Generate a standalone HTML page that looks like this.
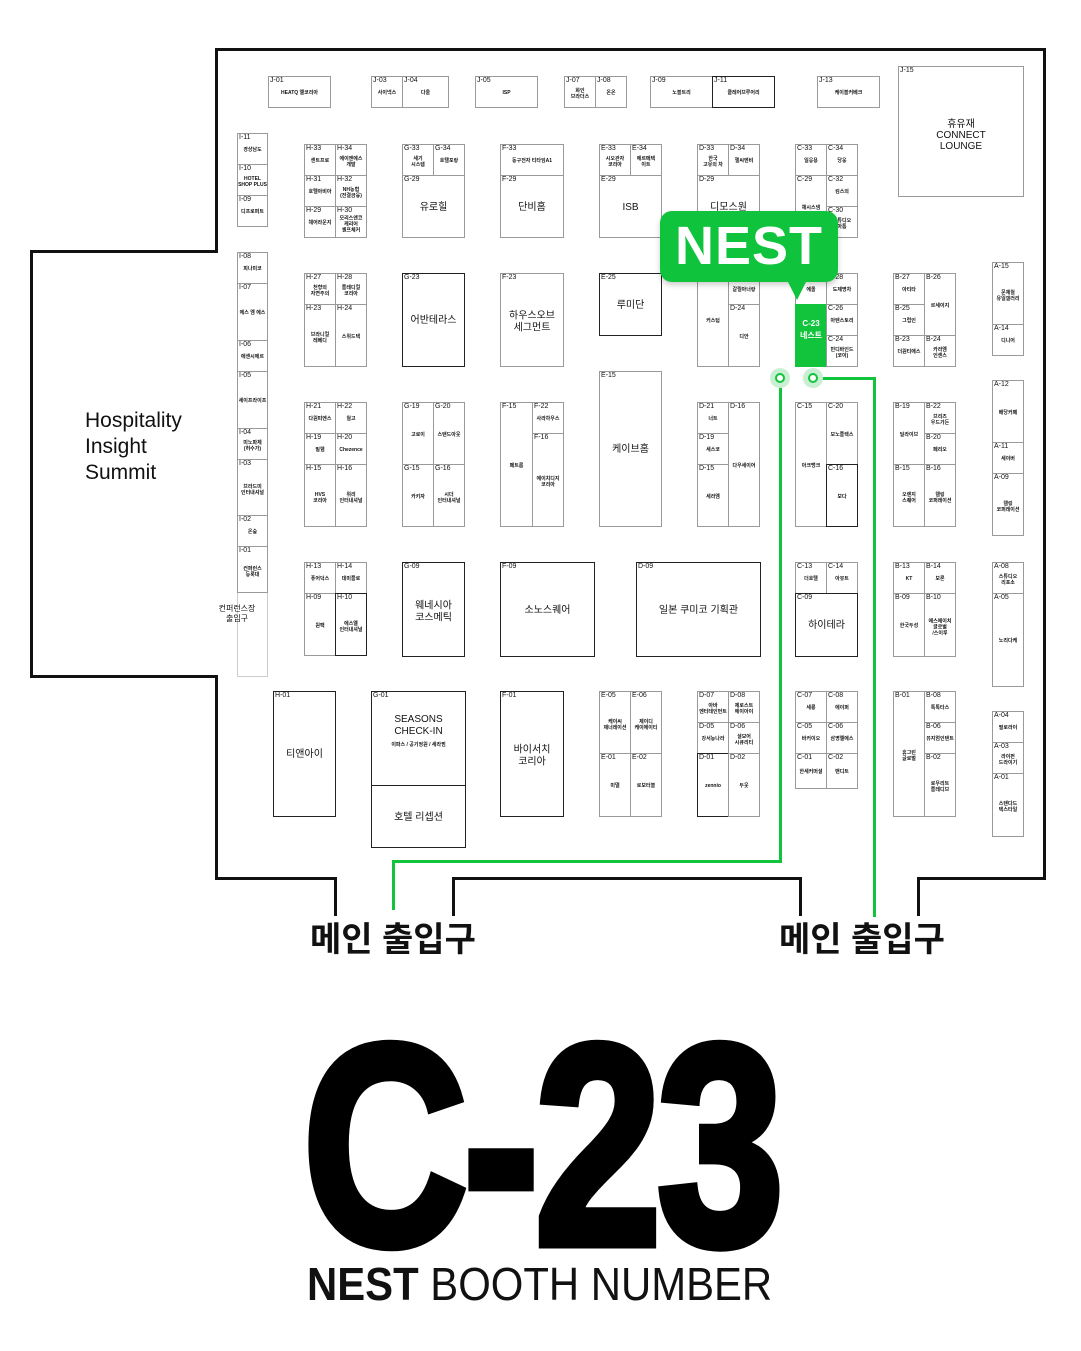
<!DOCTYPE html>
<html><head><meta charset="utf-8">
<style>
html,body{margin:0;width:1081px;height:1351px;overflow:hidden}
body{background:#fff;position:relative;font-family:"Liberation Sans","Noto Sans CJK KR",sans-serif;color:#111}
.l{position:absolute;background:#111}
.g{position:absolute;background:#12c43c}
.b{position:absolute;border:1px solid #9a9a9a;box-sizing:border-box;background:#fff}
.b>i{position:absolute;left:1px;top:0;font-style:normal;font-size:7px;line-height:8px}
.b>s{position:absolute;left:0;right:0;top:50%;transform:translateY(-35%);text-decoration:none;text-align:center;font-size:5px;font-weight:bold;line-height:6px}
.b>u{position:absolute;left:0;right:0;top:50%;transform:translateY(-40%);text-decoration:none;text-align:center;font-size:10px;line-height:12px}
.d{border-color:#222}
</style></head><body>
<!-- walls -->
<div class="l" style="left:215px;top:48px;width:831px;height:3px"></div>
<div class="l" style="left:215px;top:48px;width:3px;height:204px"></div>
<div class="l" style="left:30px;top:250px;width:188px;height:3px"></div>
<div class="l" style="left:30px;top:250px;width:3px;height:427px"></div>
<div class="l" style="left:30px;top:675px;width:188px;height:3px"></div>
<div class="l" style="left:215px;top:675px;width:3px;height:205px"></div>
<div class="l" style="left:215px;top:877px;width:122px;height:3px"></div>
<div class="l" style="left:334px;top:877px;width:3px;height:39px"></div>
<div class="l" style="left:452px;top:877px;width:3px;height:39px"></div>
<div class="l" style="left:452px;top:877px;width:350px;height:3px"></div>
<div class="l" style="left:799px;top:877px;width:3px;height:39px"></div>
<div class="l" style="left:917px;top:877px;width:3px;height:39px"></div>
<div class="l" style="left:917px;top:877px;width:129px;height:3px"></div>
<div class="l" style="left:1043px;top:48px;width:3px;height:832px"></div>
<!-- green path -->
<div class="g" style="left:779px;top:384px;width:3px;height:479px"></div>
<div class="g" style="left:392px;top:860px;width:390px;height:3px"></div>
<div class="g" style="left:392px;top:860px;width:3px;height:50px"></div>
<div class="g" style="left:819px;top:377px;width:57px;height:3px"></div>
<div class="g" style="left:873px;top:377px;width:3px;height:540px"></div>
<div style="position:absolute;left:770px;top:368px;width:20px;height:20px;border-radius:50%;background:#c9efd3"></div>
<div style="position:absolute;left:775px;top:373px;width:6px;height:6px;border-radius:50%;border:2px solid #12c43c;background:#fff"></div>
<div style="position:absolute;left:803px;top:368px;width:20px;height:20px;border-radius:50%;background:#c9efd3"></div>
<div style="position:absolute;left:808px;top:373px;width:6px;height:6px;border-radius:50%;border:2px solid #12c43c;background:#fff"></div>

<div style="position:absolute;left:85px;top:408px;font-size:21px;line-height:26px">Hospitality<br>Insight<br>Summit</div>
<div style="position:absolute;left:237px;top:592px;width:31px;height:85px;border:1px solid #ccc;border-top:none;box-sizing:border-box"></div>
<div style="position:absolute;left:205px;top:604px;width:64px;text-align:center;font-size:8px;line-height:10px;z-index:2">컨퍼런스장<br>출입구</div>

<!-- J row -->
<div class="b" style="left:268px;top:76px;width:63px;height:32px"><i>J-01</i><s>HEATQ 엘코리아</s></div>
<div class="b" style="left:371px;top:76px;width:32px;height:32px"><i>J-03</i><s>사이넥스</s></div>
<div class="b" style="left:402px;top:76px;width:47px;height:32px"><i>J-04</i><s>다울</s></div>
<div class="b" style="left:475px;top:76px;width:63px;height:32px"><i>J-05</i><s>ISP</s></div>
<div class="b" style="left:564px;top:76px;width:32px;height:32px"><i>J-07</i><s>화인<br>브라더스</s></div>
<div class="b" style="left:595px;top:76px;width:32px;height:32px"><i>J-08</i><s>온온</s></div>
<div class="b" style="left:650px;top:76px;width:63px;height:32px"><i>J-09</i><s>노블트리</s></div>
<div class="b d" style="left:712px;top:76px;width:63px;height:32px"><i>J-11</i><s>클레어브루어리</s></div>
<div class="b" style="left:817px;top:76px;width:63px;height:32px"><i>J-13</i><s>케이블커베크</s></div>
<div class="b" style="left:898px;top:66px;width:126px;height:131px"><i>J-15</i><u style="font-size:10px;line-height:11px">휴유재<br>CONNECT<br>LOUNGE</u></div>

<!-- I column -->
<div class="b" style="left:237px;top:133px;width:31px;height:32px"><i>I-11</i><s>경상남도</s></div>
<div class="b" style="left:237px;top:164px;width:31px;height:32px"><i>I-10</i><s>HOTEL<br>SHOP PLUS</s></div>
<div class="b" style="left:237px;top:195px;width:31px;height:32px"><i>I-09</i><s>디프로퍼트</s></div>
<div class="b" style="left:237px;top:252px;width:31px;height:32px"><i>I-08</i><s>피나미코</s></div>
<div class="b" style="left:237px;top:283px;width:31px;height:58px"><i>I-07</i><s>에스 엠 에스</s></div>
<div class="b" style="left:237px;top:340px;width:31px;height:32px"><i>I-06</i><s>에센시에르</s></div>
<div class="b" style="left:237px;top:371px;width:31px;height:58px"><i>I-05</i><s>세이프라이프</s></div>
<div class="b" style="left:237px;top:428px;width:31px;height:32px"><i>I-04</i><s>미노파체<br>(허수가)</s></div>
<div class="b" style="left:237px;top:459px;width:31px;height:57px"><i>I-03</i><s>브라드미<br>인터내셔널</s></div>
<div class="b" style="left:237px;top:515px;width:31px;height:32px"><i>I-02</i><s>온숲</s></div>
<div class="b" style="left:237px;top:546px;width:31px;height:47px"><i>I-01</i><s>컨퍼런스<br>등록대</s></div>

<!-- H -->
<div class="b" style="left:304px;top:144px;width:32px;height:32px"><i>H-33</i><s>센트프로</s></div>
<div class="b" style="left:335px;top:144px;width:32px;height:32px"><i>H-34</i><s>에이엔에스<br>개발</s></div>
<div class="b" style="left:304px;top:175px;width:32px;height:32px"><i>H-31</i><s>호텔아비아</s></div>
<div class="b" style="left:335px;top:175px;width:32px;height:32px"><i>H-32</i><s>NH농협<br>(전결금융)</s></div>
<div class="b" style="left:304px;top:206px;width:32px;height:32px"><i>H-29</i><s>헤어라운지</s></div>
<div class="b" style="left:335px;top:206px;width:32px;height:32px"><i>H-30</i><s>모리스앤코<br>케리어<br>셀프체커</s></div>
<div class="b" style="left:304px;top:273px;width:32px;height:32px"><i>H-27</i><s>천향의<br>자연주의</s></div>
<div class="b" style="left:335px;top:273px;width:32px;height:32px"><i>H-28</i><s>플레디컬<br>코리아</s></div>
<div class="b" style="left:304px;top:304px;width:32px;height:63px"><i>H-23</i><s>브라니컬<br>레베디</s></div>
<div class="b" style="left:335px;top:304px;width:32px;height:63px"><i>H-24</i><s>스위드텍</s></div>
<div class="b" style="left:304px;top:402px;width:32px;height:32px"><i>H-21</i><s>다원피엔스</s></div>
<div class="b" style="left:335px;top:402px;width:32px;height:32px"><i>H-22</i><s>월고</s></div>
<div class="b" style="left:304px;top:433px;width:32px;height:32px"><i>H-19</i><s>밀웰</s></div>
<div class="b" style="left:335px;top:433px;width:32px;height:32px"><i>H-20</i><s>Chezence</s></div>
<div class="b" style="left:304px;top:464px;width:32px;height:63px"><i>H-15</i><s>HVS<br>코리아</s></div>
<div class="b" style="left:335px;top:464px;width:32px;height:63px"><i>H-16</i><s>위리<br>인터내셔널</s></div>
<div class="b" style="left:304px;top:562px;width:32px;height:32px"><i>H-13</i><s>퓨어덕스</s></div>
<div class="b" style="left:335px;top:562px;width:32px;height:32px"><i>H-14</i><s>데미플로</s></div>
<div class="b" style="left:304px;top:593px;width:32px;height:63px"><i>H-09</i><s>원팩</s></div>
<div class="b d" style="left:335px;top:593px;width:32px;height:63px"><i>H-10</i><s>에스엘<br>인터내셔널</s></div>
<div class="b d" style="left:273px;top:691px;width:63px;height:126px"><i>H-01</i><u>티앤아이</u></div>

<!-- G -->
<div class="b" style="left:402px;top:144px;width:32px;height:32px"><i>G-33</i><s>세기<br>시스템</s></div>
<div class="b" style="left:433px;top:144px;width:32px;height:32px"><i>G-34</i><s>호텔포랑</s></div>
<div class="b" style="left:402px;top:175px;width:63px;height:63px"><i>G-29</i><u>유로힐</u></div>
<div class="b d" style="left:402px;top:273px;width:63px;height:94px"><i>G-23</i><u>어반테라스</u></div>
<div class="b" style="left:402px;top:402px;width:32px;height:63px"><i>G-19</i><s>고로이</s></div>
<div class="b" style="left:433px;top:402px;width:32px;height:63px"><i>G-20</i><s>스탠드아웃</s></div>
<div class="b" style="left:402px;top:464px;width:32px;height:63px"><i>G-15</i><s>카키자</s></div>
<div class="b" style="left:433px;top:464px;width:32px;height:63px"><i>G-16</i><s>시더<br>인터내셔널</s></div>
<div class="b d" style="left:402px;top:562px;width:63px;height:95px"><i>G-09</i><u>웨네시아<br>코스메틱</u></div>
<div class="b d" style="left:371px;top:691px;width:95px;height:95px"><i>G-01</i><u style="top:22px;transform:none;font-size:10px;line-height:12px">SEASONS<br>CHECK-IN<br><b style="font-size:5px">이파스 / 공기정원 / 세라핌</b></u></div>
<div class="b d" style="left:371px;top:785px;width:95px;height:63px"><u>호텔 리셉션</u></div>

<!-- F -->
<div class="b" style="left:500px;top:144px;width:64px;height:32px"><i>F-33</i><s>동구전자 티타임A1</s></div>
<div class="b" style="left:500px;top:175px;width:64px;height:63px"><i>F-29</i><u>단비홈</u></div>
<div class="b" style="left:500px;top:273px;width:64px;height:94px"><i>F-23</i><u>하우스오브<br>세그먼트</u></div>
<div class="b" style="left:500px;top:402px;width:33px;height:125px"><i>F-15</i><s>페트롬</s></div>
<div class="b" style="left:532px;top:402px;width:32px;height:32px"><i>F-22</i><s>사라하우스</s></div>
<div class="b" style="left:532px;top:433px;width:32px;height:94px"><i>F-16</i><s>에이치디지<br>코리아</s></div>
<div class="b d" style="left:500px;top:562px;width:95px;height:95px"><i>F-09</i><u>소노스퀘어</u></div>
<div class="b d" style="left:500px;top:691px;width:64px;height:126px"><i>F-01</i><u>바이서치<br>코리아</u></div>

<!-- E -->
<div class="b" style="left:599px;top:144px;width:32px;height:32px"><i>E-33</i><s>시오관자<br>코리아</s></div>
<div class="b" style="left:630px;top:144px;width:32px;height:32px"><i>E-34</i><s>에르메텍<br>이트</s></div>
<div class="b" style="left:599px;top:175px;width:63px;height:63px"><i>E-29</i><u>ISB</u></div>
<div class="b d" style="left:599px;top:273px;width:63px;height:63px"><i>E-25</i><u>루미단</u></div>
<div class="b" style="left:599px;top:371px;width:63px;height:156px"><i>E-15</i><u>케이브홈</u></div>
<div class="b d" style="left:636px;top:562px;width:125px;height:95px"><i>D-09</i><u>일본 쿠미코 기획관</u></div>
<div class="b" style="left:599px;top:691px;width:32px;height:63px"><i>E-05</i><s>케이씨<br>제너레이션</s></div>
<div class="b" style="left:630px;top:691px;width:32px;height:63px"><i>E-06</i><s>제이디<br>케이에이티</s></div>
<div class="b" style="left:599px;top:753px;width:32px;height:64px"><i>E-01</i><s>미델</s></div>
<div class="b" style="left:630px;top:753px;width:32px;height:64px"><i>E-02</i><s>로보터블</s></div>

<!-- D -->
<div class="b" style="left:697px;top:144px;width:32px;height:32px"><i>D-33</i><s>한국<br>고유의 차</s></div>
<div class="b" style="left:728px;top:144px;width:32px;height:32px"><i>D-34</i><s>헬씨엔비</s></div>
<div class="b" style="left:697px;top:175px;width:63px;height:63px"><i>D-29</i><u>디모스원</u></div>
<div class="b" style="left:697px;top:273px;width:32px;height:94px"><s>커스텀</s></div>
<div class="b" style="left:728px;top:273px;width:32px;height:32px"><s>갈릴아너랑</s></div>
<div class="b" style="left:728px;top:304px;width:32px;height:63px"><i>D-24</i><s>디안</s></div>
<div class="b" style="left:697px;top:402px;width:32px;height:32px"><i>D-21</i><s>너트</s></div>
<div class="b" style="left:697px;top:433px;width:32px;height:32px"><i>D-19</i><s>세스코</s></div>
<div class="b" style="left:697px;top:464px;width:32px;height:63px"><i>D-15</i><s>세라엠</s></div>
<div class="b" style="left:728px;top:402px;width:32px;height:125px"><i>D-16</i><s>다우세이어</s></div>
<div class="b" style="left:697px;top:691px;width:32px;height:32px"><i>D-07</i><s>아바<br>엔터테인먼트</s></div>
<div class="b" style="left:728px;top:691px;width:32px;height:32px"><i>D-08</i><s>제로스트<br>에이아이</s></div>
<div class="b" style="left:697px;top:722px;width:32px;height:32px"><i>D-05</i><s>강서농나라</s></div>
<div class="b" style="left:728px;top:722px;width:32px;height:32px"><i>D-06</i><s>셜모어<br>시큐리티</s></div>
<div class="b d" style="left:697px;top:753px;width:32px;height:64px"><i>D-01</i><s>zennio</s></div>
<div class="b" style="left:728px;top:753px;width:32px;height:64px"><i>D-02</i><s>두웃</s></div>

<!-- C -->
<div class="b" style="left:795px;top:144px;width:32px;height:32px"><i>C-33</i><s>일응용</s></div>
<div class="b" style="left:826px;top:144px;width:32px;height:32px"><i>C-34</i><s>당웅</s></div>
<div class="b" style="left:795px;top:175px;width:32px;height:63px"><i>C-29</i><s>헤시스넴</s></div>
<div class="b" style="left:826px;top:175px;width:32px;height:32px"><i>C-32</i><s>킴스의</s></div>
<div class="b" style="left:826px;top:206px;width:32px;height:32px"><i>C-30</i><s>스튜디오<br>아톰</s></div>
<div class="b" style="left:795px;top:273px;width:32px;height:32px"><s>에올</s></div>
<div style="position:absolute;left:795px;top:304px;width:32px;height:63px;background:#12c43c;color:#fff;text-align:center;font-size:8px;font-weight:bold;line-height:12px;padding-top:14px;box-sizing:border-box">C-23<br>네스트</div>
<div class="b" style="left:826px;top:273px;width:32px;height:32px"><i>C-28</i><s>도제명차</s></div>
<div class="b" style="left:826px;top:304px;width:32px;height:32px"><i>C-26</i><s>아텐스토리</s></div>
<div class="b" style="left:826px;top:335px;width:32px;height:32px"><i>C-24</i><s>빈디바인드<br>(코이)</s></div>
<div class="b" style="left:795px;top:402px;width:32px;height:125px"><i>C-15</i><s>아크뱅크</s></div>
<div class="b" style="left:826px;top:402px;width:32px;height:63px"><i>C-20</i><s>모노플렉스</s></div>
<div class="b d" style="left:826px;top:464px;width:32px;height:63px"><i>C-16</i><s>보다</s></div>
<div class="b" style="left:795px;top:562px;width:32px;height:32px"><i>C-13</i><s>더호텔</s></div>
<div class="b" style="left:826px;top:562px;width:32px;height:32px"><i>C-14</i><s>아뮤트</s></div>
<div class="b d" style="left:795px;top:593px;width:63px;height:64px"><i>C-09</i><u>하이테라</u></div>
<div class="b" style="left:795px;top:691px;width:32px;height:32px"><i>C-07</i><s>세룡</s></div>
<div class="b" style="left:826px;top:691px;width:32px;height:32px"><i>C-08</i><s>에이퍼</s></div>
<div class="b" style="left:795px;top:722px;width:32px;height:32px"><i>C-05</i><s>바커이오</s></div>
<div class="b" style="left:826px;top:722px;width:32px;height:32px"><i>C-06</i><s>삼영엘에스</s></div>
<div class="b" style="left:795px;top:753px;width:32px;height:36px"><i>C-01</i><s>한세커머셜</s></div>
<div class="b" style="left:826px;top:753px;width:32px;height:36px"><i>C-02</i><s>밴디트</s></div>

<!-- B -->
<div class="b" style="left:893px;top:273px;width:32px;height:32px"><i>B-27</i><s>아티타</s></div>
<div class="b" style="left:893px;top:304px;width:32px;height:32px"><i>B-25</i><s>그럽인</s></div>
<div class="b" style="left:924px;top:273px;width:32px;height:63px"><i>B-26</i><s>르세이지</s></div>
<div class="b" style="left:893px;top:335px;width:32px;height:32px"><i>B-23</i><s>더원티에스</s></div>
<div class="b" style="left:924px;top:335px;width:32px;height:32px"><i>B-24</i><s>카라엠<br>인센스</s></div>
<div class="b" style="left:893px;top:402px;width:32px;height:63px"><i>B-19</i><s>딜라이브</s></div>
<div class="b" style="left:924px;top:402px;width:32px;height:32px"><i>B-22</i><s>브리즈<br>우드가든</s></div>
<div class="b" style="left:924px;top:433px;width:32px;height:32px"><i>B-20</i><s>페리오</s></div>
<div class="b" style="left:893px;top:464px;width:32px;height:63px"><i>B-15</i><s>오렌지<br>스퀘어</s></div>
<div class="b" style="left:924px;top:464px;width:32px;height:63px"><i>B-16</i><s>웰링<br>코퍼레이션</s></div>
<div class="b" style="left:893px;top:562px;width:32px;height:32px"><i>B-13</i><s>KT</s></div>
<div class="b" style="left:924px;top:562px;width:32px;height:32px"><i>B-14</i><s>보론</s></div>
<div class="b" style="left:893px;top:593px;width:32px;height:64px"><i>B-09</i><s>한국두성</s></div>
<div class="b" style="left:924px;top:593px;width:32px;height:64px"><i>B-10</i><s>에스에이치<br>글로벌<br>/스이루</s></div>
<div class="b" style="left:893px;top:691px;width:32px;height:126px"><i>B-01</i><s>휴그린<br>글로벌</s></div>
<div class="b" style="left:924px;top:691px;width:32px;height:32px"><i>B-08</i><s>톡톡타스</s></div>
<div class="b" style="left:924px;top:722px;width:32px;height:32px"><i>B-06</i><s>뮤지엄인텐트</s></div>
<div class="b" style="left:924px;top:753px;width:32px;height:64px"><i>B-02</i><s>로우리트<br>플레디브</s></div>

<!-- A -->
<div class="b" style="left:992px;top:262px;width:32px;height:63px"><i>A-15</i><s>문체월<br>유일갤러리</s></div>
<div class="b" style="left:992px;top:324px;width:32px;height:32px"><i>A-14</i><s>디니어</s></div>
<div class="b" style="left:992px;top:380px;width:32px;height:63px"><i>A-12</i><s>배당커페</s></div>
<div class="b" style="left:992px;top:442px;width:32px;height:32px"><i>A-11</i><s>세이버</s></div>
<div class="b" style="left:992px;top:473px;width:32px;height:63px"><i>A-09</i><s>웰링<br>코퍼레이션</s></div>
<div class="b" style="left:992px;top:562px;width:32px;height:32px"><i>A-08</i><s>스튜디오<br>리포소</s></div>
<div class="b" style="left:992px;top:593px;width:32px;height:94px"><i>A-05</i><s>노리다케</s></div>
<div class="b" style="left:992px;top:711px;width:32px;height:32px"><i>A-04</i><s>필로라이</s></div>
<div class="b" style="left:992px;top:742px;width:32px;height:32px"><i>A-03</i><s>라이펀<br>드라이기</s></div>
<div class="b" style="left:992px;top:773px;width:32px;height:64px"><i>A-01</i><s>스탠다드<br>텍스타일</s></div>

<!-- NEST bubble -->
<div style="position:absolute;left:660px;top:211px;width:178px;height:71px;border-radius:12px;background:#0fc43c;box-shadow:0 3px 6px rgba(0,0,0,.2);color:#fff;font-weight:bold;font-size:54px;line-height:71px;text-align:center;letter-spacing:1px">NEST</div>
<div style="position:absolute;left:787px;top:280px;width:0;height:0;border-left:10px solid transparent;border-right:10px solid transparent;border-top:20px solid #0fc43c"></div>

<!-- entrances -->
<div style="position:absolute;left:310px;top:918px;font-size:34px;font-weight:bold;line-height:44px;white-space:nowrap">메인 출입구</div>
<div style="position:absolute;left:779px;top:918px;font-size:34px;font-weight:bold;line-height:44px;white-space:nowrap">메인 출입구</div>

<!-- big number -->
<div style="position:absolute;left:141px;top:995px;width:800px;text-align:center;white-space:nowrap;font-size:286px;font-weight:bold;line-height:300px;letter-spacing:-6px;color:#000;transform:scaleX(0.8);transform-origin:center;-webkit-text-stroke:9px #000">C-23</div>
<div style="position:absolute;left:307px;top:1257px;font-size:46px;line-height:54px;white-space:nowrap;transform:scaleX(0.91);transform-origin:left top"><b>NEST</b> BOOTH NUMBER</div>
</body></html>
